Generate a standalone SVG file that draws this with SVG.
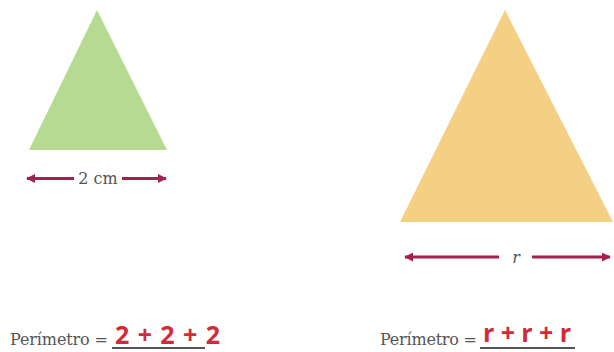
<svg xmlns="http://www.w3.org/2000/svg" width="614" height="352" viewBox="0 0 614 352">
<style>
.lbl{font-family:"DejaVu Serif","Liberation Serif",serif;fill:#555;font-size:16px}
.val{font-family:"Open Sans","Liberation Sans",sans-serif;font-weight:bold;fill:#d12b3a;font-size:25px}
.dim{stroke:#a4204f;stroke-width:3;fill:none}
.ul{stroke:#555;stroke-width:2}
</style>
<defs>
<marker id="ah" viewBox="0 0 10 10" refX="9" refY="5" markerWidth="3" markerHeight="3" orient="auto-start-reverse">
<path d="M0,0 L10,5 L0,10 Z" fill="#a4204f"/>
</marker>
</defs>
<g id="green-triangle">
<polygon points="97,10 29,150 167,150" fill="#b6da92"/>
</g>
<g id="orange-triangle">
<polygon points="505,10 400,222 613,222" fill="#f3d083"/>
</g>
<g id="connectors">
<line class="dim" x1="74" y1="178.5" x2="27" y2="178.5" marker-end="url(#ah)"/>
<line class="dim" x1="122" y1="178.5" x2="166" y2="178.5" marker-end="url(#ah)"/>
<line class="dim" x1="499" y1="257" x2="405" y2="257" marker-end="url(#ah)"/>
<line class="dim" x1="532" y1="257" x2="610" y2="257" marker-end="url(#ah)"/>
</g>
<g id="dim-labels">
<text class="lbl" x="98" y="184" text-anchor="middle">2 cm</text>
<text class="lbl" x="516" y="263" text-anchor="middle" font-style="italic">r</text>
</g>
<g id="perimeter-left">
<text class="lbl" x="10" y="345" textLength="98">Perímetro =</text>
<text class="val" x="115" y="344" textLength="105">2 + 2 + 2</text>
<line class="ul" x1="112" y1="348" x2="205" y2="348"/>
</g>
<g id="perimeter-right">
<text class="lbl" x="380" y="345" textLength="97">Perímetro =</text>
<text class="val" x="483" y="342" textLength="88">r + r + r</text>
<line class="ul" x1="480" y1="348" x2="575" y2="348"/>
</g>
</svg>
